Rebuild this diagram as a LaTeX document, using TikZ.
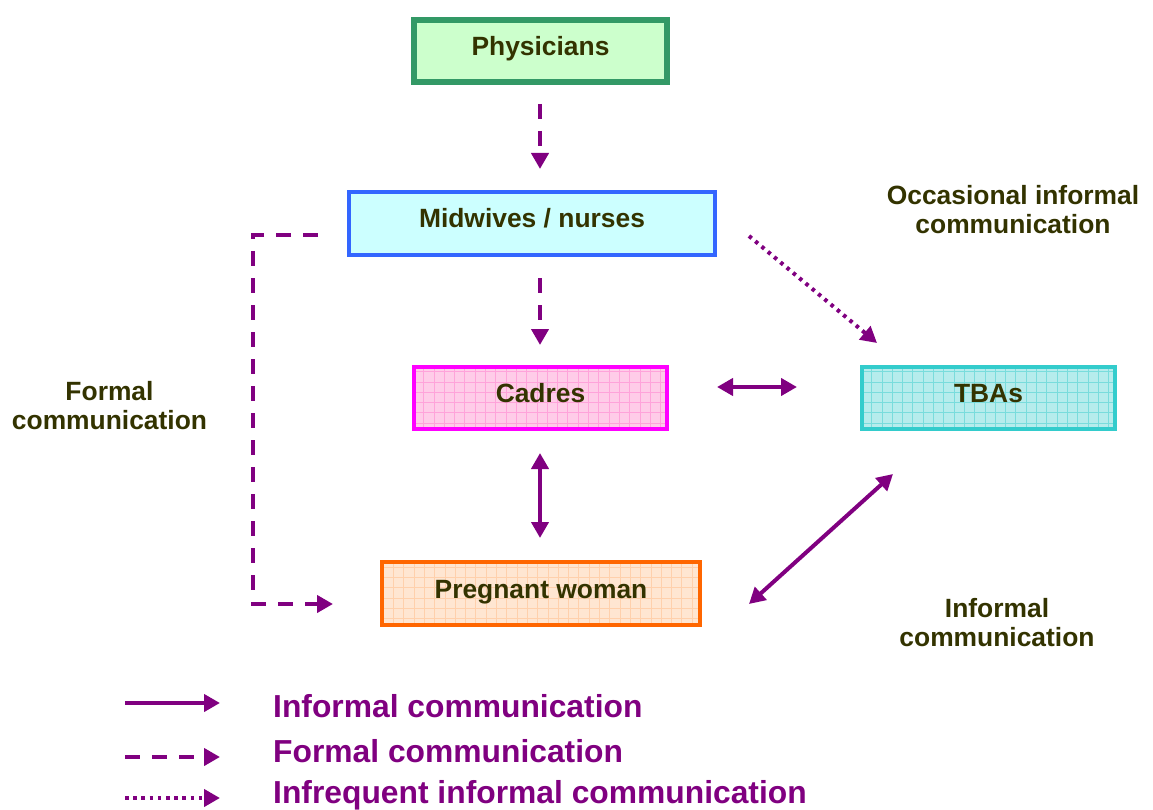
\documentclass[tikz,border=0pt]{standalone}
\usepackage{fontspec}
\setmainfont{Liberation Sans}
\usetikzlibrary{arrows.meta}

\definecolor{purp}{HTML}{800080}
\definecolor{textdark}{HTML}{333300}
\definecolor{physfill}{HTML}{CCFFCC}
\definecolor{physline}{HTML}{339966}
\definecolor{midfill}{HTML}{CCFFFF}
\definecolor{midline}{HTML}{3366FF}
\definecolor{cadfill}{HTML}{FFCCE8}
\definecolor{cadgrid}{HTML}{FFA3DA}
\definecolor{cadline}{HTML}{FF00FF}
\definecolor{tbafill}{HTML}{B6ECEC}
\definecolor{tbagrid}{HTML}{79DCDC}
\definecolor{tbaline}{HTML}{33CCCC}
\definecolor{pregfill}{HTML}{FFE6D2}
\definecolor{preggrid}{HTML}{FFD0AC}
\definecolor{pregline}{HTML}{FF6600}

\tikzset{
  ptip/.tip={Triangle[length=16pt,width=17pt]},
  box/.style={draw, line width=4pt, inner sep=0pt, text height=14pt, text depth=5pt,
    font=\bfseries\fontsize{26.4}{30}\selectfont, text=textdark},
  gridded/.style={path picture={\draw[#1, line width=0.8pt, step=10.3pt]
    (path picture bounding box.south west) grid (path picture bounding box.north east);}},
  conn/.style={draw=purp, line width=4pt},
  informal/.style={conn, ptip-ptip},
  formal/.style={conn, dash pattern=on 15pt off 12pt, -ptip},
  rare/.style={conn, dash pattern=on 3.5pt off 4.7pt, -ptip},
  lab/.style={align=center, inner sep=0pt, text=textdark,
    font=\bfseries\fontsize{26.4}{29}\selectfont},
  legtext/.style={anchor=base west, inner sep=0pt, text=purp,
    font=\bfseries\fontsize{31.8}{36}\selectfont},
}

\begin{document}
\begin{tikzpicture}[x=1pt,y=-1pt]
\useasboundingbox (0,0) rectangle (1153,810);

% boxes
\node[box, line width=6pt, draw=physline, fill=physfill, minimum width=253pt, minimum height=62pt]
  (phys) at (540.5,51.5) {Physicians};
\node[box, draw=midline, fill=midfill, minimum width=366pt, minimum height=63pt]
  (mid) at (532,223.5) {Midwives / nurses};
\node[box, draw=cadline, fill=cadfill, gridded=cadgrid, minimum width=253pt, minimum height=62pt]
  (cad) at (540.5,398) {Cadres};
\node[box, draw=tbaline, fill=tbafill, gridded=tbagrid, minimum width=253pt, minimum height=62pt]
  (tba) at (988.5,398) {TBAs};
\node[box, draw=pregline, fill=pregfill, gridded=preggrid, minimum width=318pt, minimum height=63pt]
  (preg) at (541,593.5) {Pregnant woman};

% labels
\node[lab, anchor=north] (lformal) at (109.5,381.5) {Formal\\communication};
\node[lab, anchor=north] (loccas) at (1013,185) {Occasional informal\\communication};
\node[lab, anchor=north] (linf) at (997,598) {Informal\\communication};

% connector end points
\coordinate (physOut) at (540,104);
\coordinate (midIn) at (540,169);
\coordinate (midOut) at (540,278);
\coordinate (cadIn) at (540,345);
\coordinate (midSide) at (318,235);
\coordinate (pregSide) at (333,604);
\coordinate (midCorner) at (749,236);
\coordinate (tbaTop) at (877,343);
\coordinate (cadRight) at (717,387);
\coordinate (tbaLeft) at (797,387);
\coordinate (cadBottom) at (540,453);
\coordinate (pregTop) at (540,538);
\coordinate (pregRight) at (749,604);
\coordinate (tbaBottom) at (893,474);

% connectors
\draw[formal] (physOut) -- (midIn);
\draw[formal] (midOut) -- (cadIn);
\draw[formal] (midSide) -- (253,235) -- (253,604) -- (pregSide);
\draw[rare] (midCorner) -- (tbaTop);
\draw[informal] (cadRight) -- (tbaLeft);
\draw[informal] (cadBottom) -- (pregTop);
\draw[informal] (pregRight) -- (tbaBottom);

% legend
\coordinate (legA1) at (125,703);
\coordinate (legA2) at (220,703);
\coordinate (legB1) at (125,757);
\coordinate (legB2) at (220,757);
\coordinate (legC1) at (125,798);
\coordinate (legC2) at (220,798);
\draw[conn, -ptip] (legA1) -- (legA2);
\draw[formal] (legB1) -- (legB2);
\draw[rare] (legC1) -- (legC2);
\node[legtext] (legInf) at (273,717.5) {Informal communication};
\node[legtext] (legFor) at (273,762.5) {Formal communication};
\node[legtext] (legRare) at (273,803) {Infrequent informal communication};
\end{tikzpicture}
\end{document}
